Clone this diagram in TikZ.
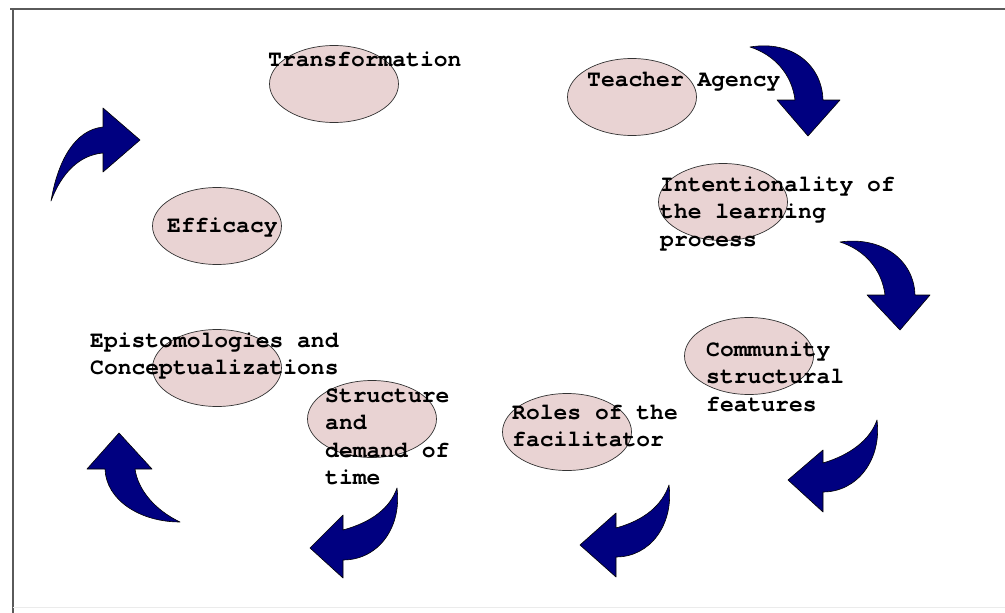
\documentclass[tikz,border=0pt]{standalone}
\usepackage{fontspec}
\setmonofont{TeX Gyre Cursor}[Ligatures={NoCommon,NoRare}]
\usetikzlibrary{shapes.geometric}
\definecolor{pinkfill}{HTML}{E9D3D3}
\definecolor{navyarrow}{HTML}{000080}
\definecolor{framegray}{HTML}{5A5A5A}
\newcommand{\stacklines}[1]{\vtop{\baselineskip=27.5pt\lineskiplimit=-100pt #1}}
\tikzset{
  bubble/.style={ellipse, draw=black!80, line width=0.7pt, fill=pinkfill, minimum width=129pt, minimum height=77pt, inner sep=0pt},
  label text/.style={anchor=base west, inner sep=0pt, font=\fontsize{23}{27.5}\selectfont\ttfamily\bfseries, text=black},
  blockarrow/.style={fill=navyarrow, draw=black, line width=0.6pt, line join=round}
}
\begin{document}
\begin{tikzpicture}[x=1pt,y=-1pt]
\useasboundingbox (0,0) rectangle (1005,613);
\fill[white] (0,0) rectangle (1005,613);
% frame
\draw[framegray, line width=2pt] (10,9) -- (1005,9);
\draw[framegray, line width=2pt] (13,9) -- (13,613);
\draw[black!8, line width=1pt] (13,607) -- (1005,607);

% ellipses
\node[bubble] (transE) at (334,84) {};
\node[bubble] (agencyE) at (632,97) {};
\node[bubble] (efficE) at (217,226) {};
\node[bubble] (intentE) at (723,202) {};
\node[bubble] (commE) at (749,356) {};
\node[bubble] (epistE) at (217,368) {};
\node[bubble] (structE) at (372,419) {};
\node[bubble] (rolesE) at (567,432) {};

% texts
\node[label text] (transT) at (268,66) {Transformation};
\node[label text] (agencyT) at (587,86) {Teacher Agency};
\node[label text] (efficT) at (167,232) {Efficacy};
\node[label text] (intentT) at (660,191) {\stacklines{\hbox{Intentionality of}\hbox{the learning}\hbox{process}}};
\node[label text] (commT) at (706,356) {\stacklines{\hbox{Community}\hbox{structural}\hbox{features}}};
\node[label text] (epistT) at (90,347) {\stacklines{\hbox{Epistomologies and}\hbox{Conceptualizations}}};
\node[label text] (structT) at (325,402) {\stacklines{\hbox{Structure}\hbox{and}\hbox{demand of}\hbox{time}}};
\node[label text] (rolesT) at (512,419) {\stacklines{\hbox{Roles of the}\hbox{facilitator}}};

% curved block arrows
\filldraw[blockarrow] (51,201) .. controls (58,160) and (75,130) .. (103,127) -- (103,108) -- (140,140) -- (103,172) -- (103,153) .. controls (80,155) and (62,172) .. (51,201) -- cycle;
\filldraw[blockarrow] (750,47) .. controls (792,40) and (822,65) .. (823,100) -- (840,100) -- (808,136) -- (777,100) -- (795,100) .. controls (792,75) and (775,55) .. (750,47) -- cycle;
\filldraw[blockarrow] (840,242) .. controls (882,236) and (914,260) .. (915,295) -- (930,295) -- (900,330) -- (867,295) -- (885,295) .. controls (882,270) and (865,250) .. (840,242) -- cycle;
\filldraw[blockarrow] (877,420) .. controls (882,460) and (857,492) .. (823,492) -- (823,512) -- (788,480) -- (823,450) -- (823,463) .. controls (850,455) and (870,440) .. (877,420) -- cycle;
\filldraw[blockarrow] (669,485) .. controls (674,525) and (650,557) .. (616,557) -- (616,577) -- (580,545) -- (616,513) -- (616,528) .. controls (645,520) and (662,505) .. (669,485) -- cycle;
\filldraw[blockarrow] (397,488) .. controls (402,528) and (378,560) .. (343,560) -- (343,578) -- (310,548) -- (343,515) -- (343,530) .. controls (372,522) and (390,508) .. (397,488) -- cycle;
\filldraw[blockarrow] (180,522) .. controls (140,522) and (106,500) .. (105,469) -- (87,469) -- (119,433) -- (152,469) -- (135,469) .. controls (138,490) and (155,510) .. (180,522) -- cycle;
\end{tikzpicture}
\end{document}
